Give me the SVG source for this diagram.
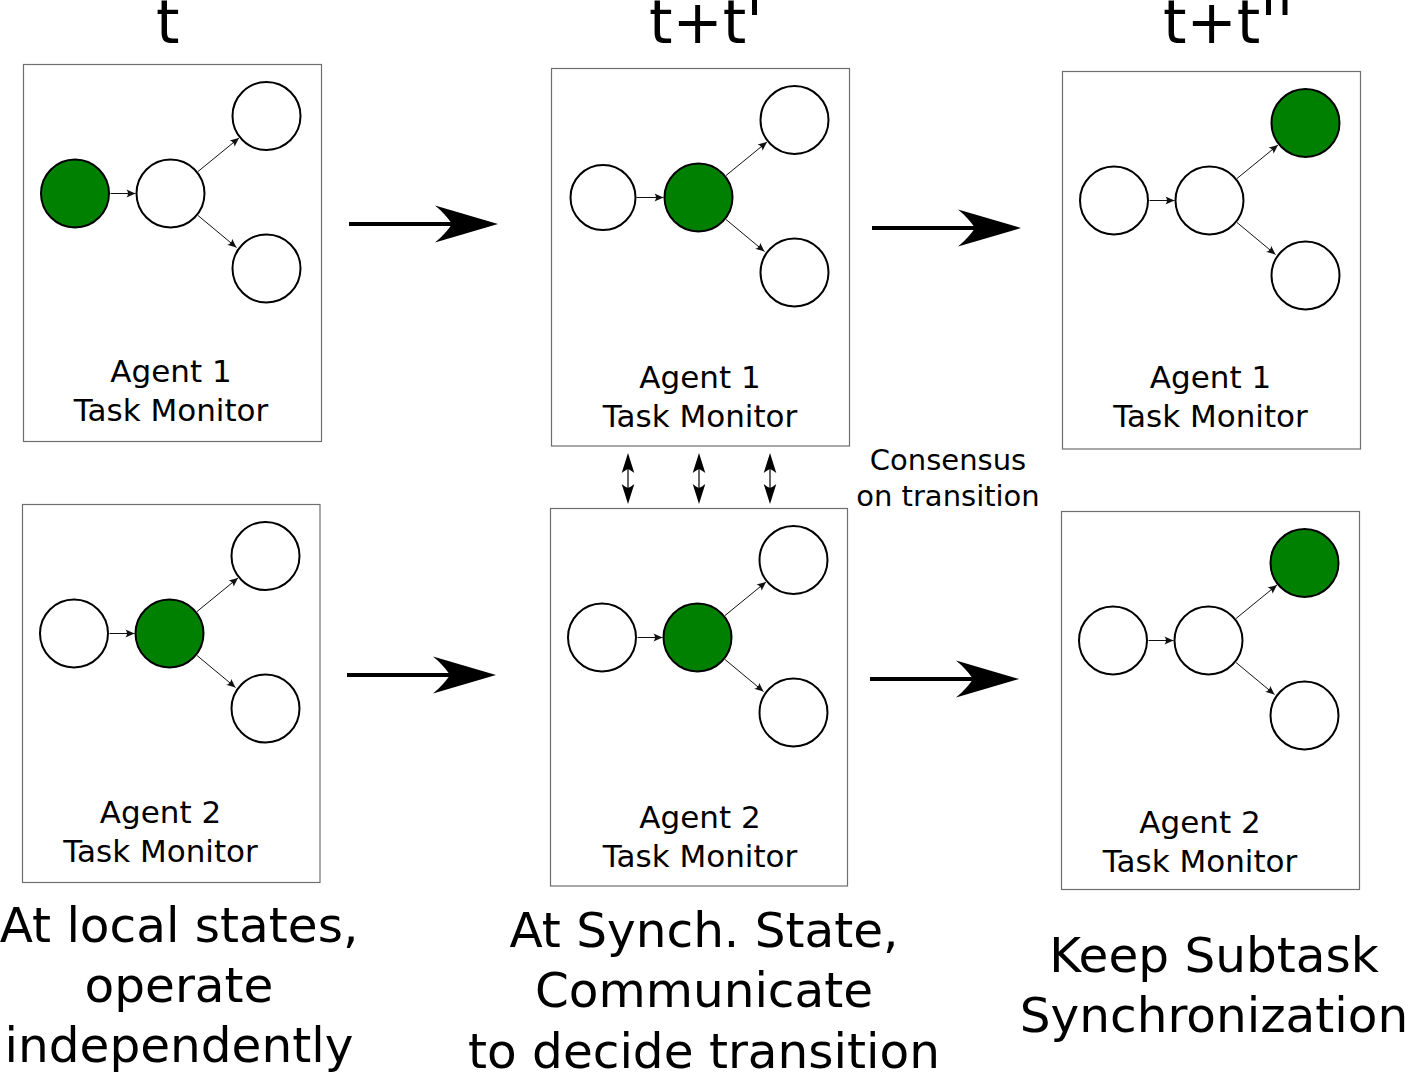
<svg xmlns="http://www.w3.org/2000/svg" width="1405" height="1073" viewBox="0 0 1405 1073">
<style>
text{font-family:"DejaVu Sans","Liberation Sans",sans-serif;fill:#000}
.panel{fill:#fff;stroke:#6e6e6e;stroke-width:1.2}
.node{fill:#fff;stroke:#000;stroke-width:2}
.active{fill:#008000}
.edge{fill:none;stroke:#111;stroke-width:1;marker-end:url(#small)}
.big{fill:none;stroke:#000;stroke-width:4;marker-end:url(#bighead)}
.dbl{fill:none;stroke:#000;stroke-width:1.2;marker-start:url(#dhead);marker-end:url(#dhead)}
.lbl{font-size:31px;text-anchor:middle}
.cap{font-size:48.5px;text-anchor:middle}
.hdr{font-size:60px}
.cons{font-size:29px;text-anchor:middle}
</style>
<defs>
<marker id="small" markerUnits="userSpaceOnUse" markerWidth="12" markerHeight="10" refX="10" refY="5" orient="auto" overflow="visible">
<path d="M10,5 L1,1 C3,3.4 3,6.6 1,9 Z" fill="#111"/>
</marker>
<marker id="bighead" markerUnits="userSpaceOnUse" markerWidth="70" markerHeight="40" refX="20" refY="20" orient="auto" overflow="visible">
<path d="M66,20 L3,1.5 C11,8 16,14 20,20 C16,26 11,32 3,38.5 Z" fill="#000"/>
</marker>
<marker id="dhead" markerUnits="userSpaceOnUse" markerWidth="22" markerHeight="14" refX="4" refY="7" orient="auto-start-reverse" overflow="visible">
<path d="M20,7 L0,0.7 C2,3 3,5 4,7 C3,9 2,11 0,13.3 Z" fill="#000"/>
</marker>
</defs>

<g id="headers">
<text class="hdr" x="156" y="43">t</text>
<text class="hdr" x="649" y="43">t+t'</text>
<text class="hdr" x="1163" y="43">t+t''</text>
</g>

<g id="panel-a1-t" transform="translate(23.5,64.5)">
<rect class="panel" x="0" y="0" width="298" height="377"/>
<g class="edges">
<line class="edge" x1="87" y1="129" x2="112" y2="129"/>
<line class="edge" x1="174.5" y1="107" x2="215.5" y2="73.5"/>
<line class="edge" x1="174.5" y1="151" x2="213" y2="183"/>
</g>
<g id="a1t-n1"><circle class="node active" cx="51.5" cy="129" r="34"/></g>
<g id="a1t-n2"><circle class="node" cx="147" cy="129" r="34"/></g>
<g id="a1t-n3"><circle class="node" cx="243" cy="51.5" r="34"/></g>
<g id="a1t-n4"><circle class="node" cx="243" cy="204" r="34"/></g>
</g>
<g id="label-a1-t">
<text class="lbl" x="171" y="382">Agent 1</text>
<text class="lbl" x="171" y="421">Task Monitor</text>
</g>

<g id="panel-a1-t1" transform="translate(551.5,68.5)">
<rect class="panel" x="0" y="0" width="298" height="377.5"/>
<g class="edges">
<line class="edge" x1="85" y1="129" x2="112" y2="129"/>
<line class="edge" x1="174.5" y1="107" x2="215.5" y2="73.5"/>
<line class="edge" x1="174.5" y1="151" x2="213" y2="183"/>
</g>
<g id="a1t1-n1"><circle class="node" cx="51.5" cy="129" r="32.5"/></g>
<g id="a1t1-n2"><circle class="node active" cx="147" cy="129" r="34"/></g>
<g id="a1t1-n3"><circle class="node" cx="243" cy="51.5" r="34"/></g>
<g id="a1t1-n4"><circle class="node" cx="243" cy="204" r="34"/></g>
</g>
<g id="label-a1-t1">
<text class="lbl" x="700" y="388">Agent 1</text>
<text class="lbl" x="700" y="426.5">Task Monitor</text>
</g>

<g id="panel-a1-t2" transform="translate(1062.5,71.5)">
<rect class="panel" x="0" y="0" width="298" height="377.5"/>
<g class="edges">
<line class="edge" x1="87" y1="129" x2="112" y2="129"/>
<line class="edge" x1="174.5" y1="107" x2="215.5" y2="73.5"/>
<line class="edge" x1="174.5" y1="151" x2="213" y2="183"/>
</g>
<g id="a1t2-n1"><circle class="node" cx="51.5" cy="129" r="34"/></g>
<g id="a1t2-n2"><circle class="node" cx="147" cy="129" r="34"/></g>
<g id="a1t2-n3"><circle class="node active" cx="243" cy="51.5" r="34"/></g>
<g id="a1t2-n4"><circle class="node" cx="243" cy="204" r="34"/></g>
</g>
<g id="label-a1-t2">
<text class="lbl" x="1210.5" y="388">Agent 1</text>
<text class="lbl" x="1210.5" y="426.5">Task Monitor</text>
</g>

<g id="panel-a2-t" transform="translate(22.5,504.5)">
<rect class="panel" x="0" y="0" width="297.5" height="378"/>
<g class="edges">
<line class="edge" x1="87" y1="129" x2="112" y2="129"/>
<line class="edge" x1="174.5" y1="107" x2="215.5" y2="73.5"/>
<line class="edge" x1="174.5" y1="151" x2="213" y2="183"/>
</g>
<g id="a2t-n1"><circle class="node" cx="51.5" cy="129" r="34"/></g>
<g id="a2t-n2"><circle class="node active" cx="147" cy="129" r="34"/></g>
<g id="a2t-n3"><circle class="node" cx="243" cy="51.5" r="34"/></g>
<g id="a2t-n4"><circle class="node" cx="243" cy="204" r="34"/></g>
</g>
<g id="label-a2-t">
<text class="lbl" x="160.5" y="823">Agent 2</text>
<text class="lbl" x="160.5" y="861.5">Task Monitor</text>
</g>

<g id="panel-a2-t1" transform="translate(550.5,508.5)">
<rect class="panel" x="0" y="0" width="297" height="377.5"/>
<g class="edges">
<line class="edge" x1="87" y1="129" x2="112" y2="129"/>
<line class="edge" x1="174.5" y1="107" x2="215.5" y2="73.5"/>
<line class="edge" x1="174.5" y1="151" x2="213" y2="183"/>
</g>
<g id="a2t1-n1"><circle class="node" cx="51.5" cy="129" r="34"/></g>
<g id="a2t1-n2"><circle class="node active" cx="147" cy="129" r="34"/></g>
<g id="a2t1-n3"><circle class="node" cx="243" cy="51.5" r="34"/></g>
<g id="a2t1-n4"><circle class="node" cx="243" cy="204" r="34"/></g>
</g>
<g id="label-a2-t1">
<text class="lbl" x="700" y="828">Agent 2</text>
<text class="lbl" x="700" y="866.5">Task Monitor</text>
</g>

<g id="panel-a2-t2" transform="translate(1061.5,511.5)">
<rect class="panel" x="0" y="0" width="298" height="378"/>
<g class="edges">
<line class="edge" x1="87" y1="129" x2="112" y2="129"/>
<line class="edge" x1="174.5" y1="107" x2="215.5" y2="73.5"/>
<line class="edge" x1="174.5" y1="151" x2="213" y2="183"/>
</g>
<g id="a2t2-n1"><circle class="node" cx="51.5" cy="129" r="34"/></g>
<g id="a2t2-n2"><circle class="node" cx="147" cy="129" r="34"/></g>
<g id="a2t2-n3"><circle class="node active" cx="243" cy="51.5" r="34"/></g>
<g id="a2t2-n4"><circle class="node" cx="243" cy="204" r="34"/></g>
</g>
<g id="label-a2-t2">
<text class="lbl" x="1200" y="833">Agent 2</text>
<text class="lbl" x="1200" y="871.5">Task Monitor</text>
</g>

<g id="connectors">
<line class="big" x1="349" y1="224" x2="452" y2="224"/>
<line class="big" x1="347" y1="675" x2="450" y2="675"/>
<line class="big" x1="872" y1="228" x2="975" y2="228"/>
<line class="big" x1="870" y1="679" x2="973" y2="679"/>
<line class="dbl" x1="628" y1="469" x2="628" y2="488"/>
<line class="dbl" x1="699" y1="469" x2="699" y2="488"/>
<line class="dbl" x1="770" y1="469" x2="770" y2="488"/>
</g>

<g id="consensus-label">
<text class="cons" x="948" y="470">Consensus</text>
<text class="cons" x="948" y="506">on transition</text>
</g>

<g id="captions">
<text class="cap" x="179" y="942">At local states,</text>
<text class="cap" x="179" y="1002">operate</text>
<text class="cap" x="179" y="1062">independently</text>
<text class="cap" x="704" y="947">At Synch. State,</text>
<text class="cap" x="704" y="1007">Communicate</text>
<text class="cap" x="704" y="1068">to decide transition</text>
<text class="cap" x="1214" y="972">Keep Subtask</text>
<text class="cap" x="1214" y="1032">Synchronization</text>
</g>
</svg>
